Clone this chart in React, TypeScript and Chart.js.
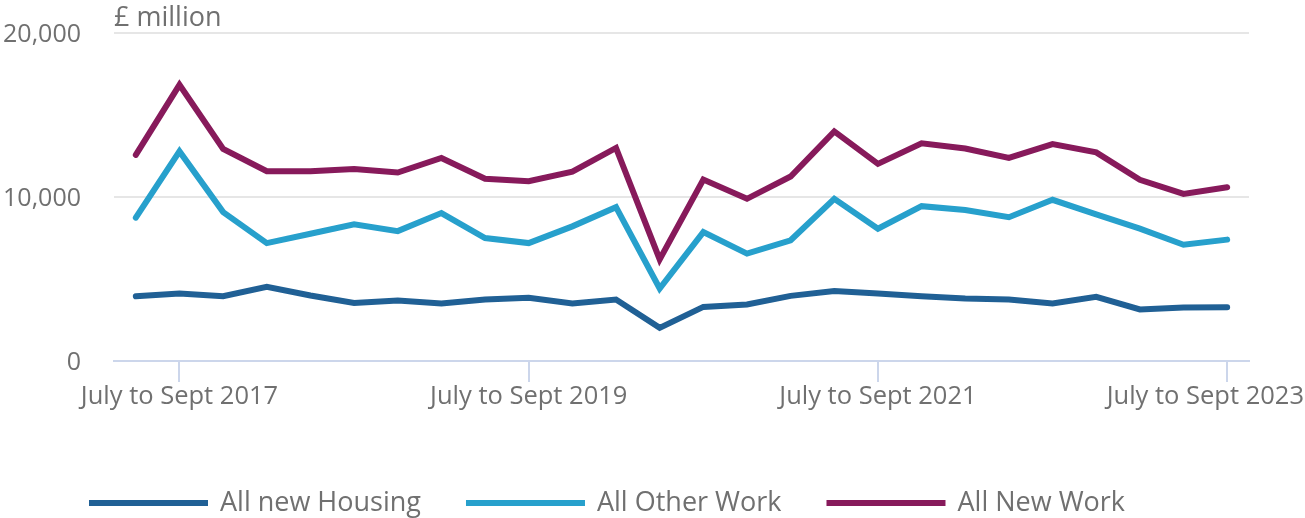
import React, { useEffect, useRef } from "react";
import { Chart, registerables } from "chart.js";

Chart.register(...registerables);

// ---------- data ----------
const categories: string[] = [
  "Apr to June 2017", "July to Sept 2017", "Oct to Dec 2017", "Jan to Mar 2018",
  "Apr to June 2018", "July to Sept 2018", "Oct to Dec 2018", "Jan to Mar 2019",
  "Apr to June 2019", "July to Sept 2019", "Oct to Dec 2019", "Jan to Mar 2020",
  "Apr to June 2020", "July to Sept 2020", "Oct to Dec 2020", "Jan to Mar 2021",
  "Apr to June 2021", "July to Sept 2021", "Oct to Dec 2021", "Jan to Mar 2022",
  "Apr to June 2022", "July to Sept 2022", "Oct to Dec 2022", "Jan to Mar 2023",
  "Apr to June 2023", "July to Sept 2023",
];

const allNewHousing: number[] = [
  3950, 4110, 3950, 4520, 3990, 3540, 3690, 3510, 3750, 3850, 3510, 3750, 2020,
  3300, 3450, 3970, 4270, 4110, 3950, 3810, 3750, 3510, 3910, 3140, 3260, 3280,
];

const allOtherWork: number[] = [
  8740, 12780, 9080, 7190, 7760, 8330, 7920, 9020, 7500, 7190, 8210, 9380, 4420,
  7860, 6550, 7360, 9890, 8070, 9440, 9210, 8770, 9830, 8940, 8070, 7090, 7400,
];

const allNewWork: number[] = [
  12570, 16840, 12930, 11570, 11570, 11710, 11490, 12380, 11110, 10960, 11550, 12990, 6200,
  11060, 9890, 11250, 14000, 12020, 13270, 12960, 12380, 13230, 12720, 11050, 10190, 10600,
];

const seriesNames: string[] = ["All new Housing", "All Other Work", "All New Work"];
const xTickLabels: string[] = ["July to Sept 2017", "July to Sept 2019", "July to Sept 2021", "July to Sept 2023"];
const yTickValues: number[] = [0, 10000, 20000];
const unitLabel = "£ million";

// ---------- styles ----------
const FONT = "'Open Sans', sans-serif";
const TEXT = "#707070";
const COLORS = ["#206095", "#27a0cc", "#871a5b"];
const W = 1305;
const H = 518;

const overlayPlugin = {
  id: "overlay",
  afterDraw(chart: any) {
    const ctx = chart.ctx as CanvasRenderingContext2D;
    const area = chart.chartArea;
    ctx.save();
    ctx.fillStyle = TEXT;
    ctx.textBaseline = "alphabetic";
    ctx.textAlign = "left";
    // unit label
    ctx.font = `27px ${FONT}`;
    ctx.fillText(unitLabel, area.left, 26);
    // x tick labels
    const xs = chart.scales.x;
    ctx.font = `25.5px ${FONT}`;
    categories.forEach((c, i) => {
      if (!xTickLabels.includes(c)) return;
      const px = xs.getPixelForValue(i);
      const w = ctx.measureText(c).width;
      let x0 = px - w / 2;
      if (x0 + w > chart.width - 1) x0 = chart.width - 1 - w;
      ctx.fillText(c, x0, 404);
    });
    // legend
    ctx.font = `27px ${FONT}`;
    let x = 89;
    chart.data.datasets.forEach((ds: any) => {
      ctx.fillStyle = ds.borderColor;
      ctx.fillRect(x, 500, 119, 6);
      x += 119 + 12;
      ctx.fillStyle = TEXT;
      ctx.fillText(ds.label, x, 511);
      x += ctx.measureText(ds.label).width + 45;
    });
    ctx.restore();
  },
};

export default function App() {
  const ref = useRef<HTMLCanvasElement | null>(null);

  useEffect(() => {
    if (!ref.current) return;
    const series = [allNewHousing, allOtherWork, allNewWork];
    const chart = new Chart(ref.current, {
      type: "line",
      data: {
        labels: categories,
        datasets: series.map((d, i) => ({
          label: seriesNames[i],
          data: d,
          borderColor: COLORS[i],
          backgroundColor: COLORS[i],
          borderWidth: 6,
          pointRadius: 0,
          pointHoverRadius: 0,
          borderCapStyle: "round" as const,
          borderJoinStyle: "miter" as const,
          tension: 0,
          fill: false,
        })),
      },
      options: {
        responsive: false,
        animation: false,
        devicePixelRatio: 1,
        layout: { padding: { left: 0, right: W - 1249, top: 33, bottom: 0 } },
        plugins: {
          legend: { display: false },
          tooltip: { enabled: false },
          title: { display: false },
        },
        scales: {
          x: {
            type: "category",
            offset: true,
            afterFit: (scale: any) => {
              scale.height = H - 361;
              scale.paddingLeft = 0;
              scale.paddingRight = 0;
            },
            grid: {
              display: true,
              offset: false,
              drawOnChartArea: false,
              drawTicks: true,
              tickLength: 21,
              lineWidth: 2,
              color: (ctx: any) =>
                xTickLabels.includes(categories[ctx.index]) ? "#ccd6eb" : "rgba(0,0,0,0)",
            },
            border: { display: true, color: "#ccd6eb", width: 2 },
            ticks: { display: false, autoSkip: false, maxRotation: 0 },
          },
          y: {
            min: yTickValues[0],
            max: yTickValues[yTickValues.length - 1],
            afterFit: (scale: any) => {
              scale.width = 114;
              scale.paddingTop = 0;
              scale.paddingBottom = 0;
            },
            afterBuildTicks: (scale: any) => {
              scale.ticks = yTickValues.map((v) => ({ value: v }));
            },
            grid: {
              drawTicks: false,
              lineWidth: 2,
              color: (ctx: any) => (ctx.tick && ctx.tick.value === 0 ? "rgba(0,0,0,0)" : "#e6e6e6"),
            },
            border: { display: false },
            ticks: {
              padding: 33,
              labelOffset: 2,
              color: TEXT,
              font: { family: FONT, size: 25 },
              callback: (v: any) => Number(v).toLocaleString("en-GB"),
            },
          },
        },
      },
      plugins: [overlayPlugin],
    });
    return () => chart.destroy();
  }, []);

  return (
    <div style={{ position: "absolute", left: 0, top: 0, width: W, height: H, background: "#fff" }}>
      <canvas ref={ref} width={W} height={H} style={{ width: W, height: H, display: "block" }} />
    </div>
  );
}
